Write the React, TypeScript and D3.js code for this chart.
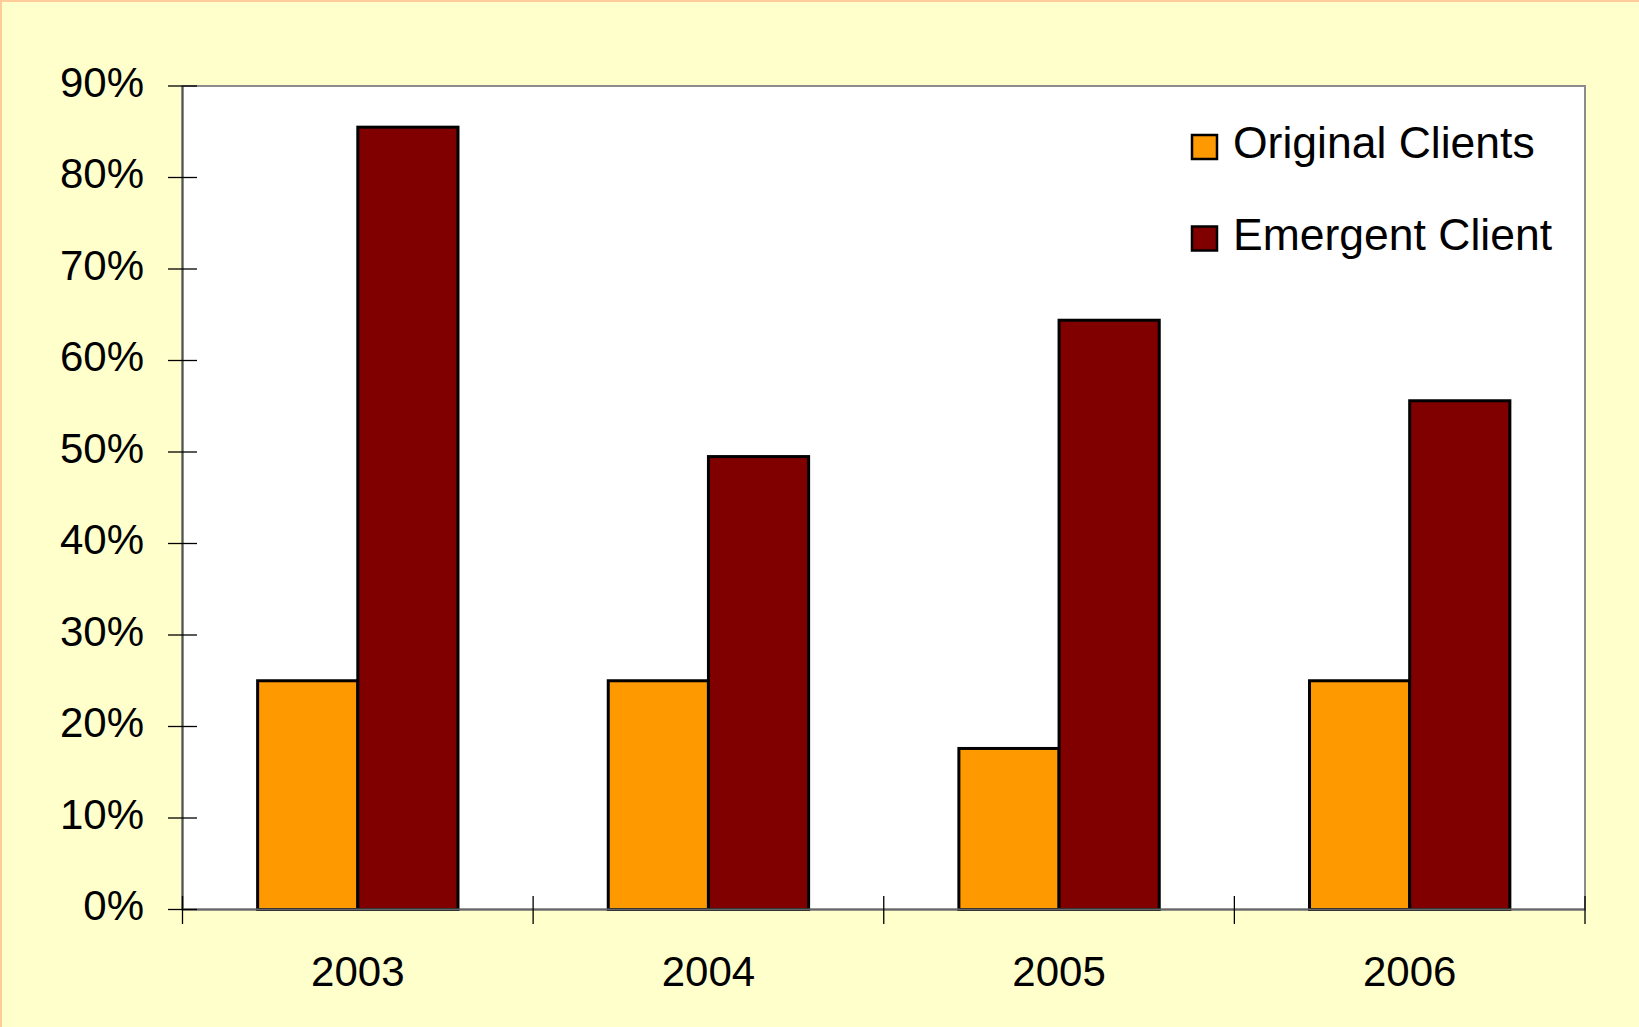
import React from "react";
import * as d3 from "d3";

// Share of clients by year
const years = ["2003", "2004", "2005", "2006"];
const seriesNames = ["Original Clients", "Emergent Client"];
const originalClients = [0.25, 0.25, 0.176, 0.25];
const emergentClient = [0.855, 0.495, 0.644, 0.556];
const seriesColors = ["#FF9900", "#800000"];
const yTicks = [0, 0.1, 0.2, 0.3, 0.4, 0.5, 0.6, 0.7, 0.8, 0.9];

const W = 1639;
const H = 1027;
const plot = { left: 182.5, right: 1585, top: 86, bottom: 909.5 };
const FONT = "'Liberation Sans', Arial, Helvetica, sans-serif";

export default function App() {
  const x = d3
    .scaleBand<string>()
    .domain(years)
    .range([plot.left, plot.right])
    .paddingInner(0)
    .paddingOuter(0);
  const bw = x.bandwidth();
  // gap width of 150% between groups
  const barW = bw / 3.5;
  const inner = d3
    .scaleBand<string>()
    .domain(seriesNames)
    .range([0.75 * barW, bw - 0.75 * barW])
    .padding(0);

  const y = d3.scaleLinear().domain([0, 0.9]).range([plot.bottom, plot.top]);
  const fmt = d3.format(".0%");
  const values = [originalClients, emergentClient];
  const boundaries = [...years.map((yr) => x(yr) as number), plot.right];

  return (
    <svg
      width={W}
      height={H}
      viewBox={`0 0 ${W} ${H}`}
      style={{ position: "absolute", left: 0, top: 0, display: "block" }}
      fontFamily={FONT}
    >
      <rect x={0} y={0} width={W} height={H} fill="#FFFFCC" />
      <line x1={0} y1={1} x2={W} y2={1} stroke="#FFCC99" strokeWidth={2} />
      <line x1={1} y1={0} x2={1} y2={H} stroke="#FFCC99" strokeWidth={2} />

      {/* plot area */}
      <rect
        x={plot.left}
        y={plot.top}
        width={plot.right - plot.left}
        height={plot.bottom - plot.top}
        fill="#FFFFFF"
        stroke="#8C8C8C"
        strokeWidth={2}
      />

      {/* bars */}
      {years.map((yr, i) => (
        <g key={yr} transform={`translate(${x(yr)},0)`}>
          {seriesNames.map((s, j) => {
            const v = values[j][i];
            return (
              <rect
                key={s}
                x={inner(s)}
                y={y(v)}
                width={inner.bandwidth()}
                height={y(0) - y(v)}
                fill={seriesColors[j]}
                stroke="#000"
                strokeWidth={3}
              />
            );
          })}
        </g>
      ))}

      {/* axes */}
      <line x1={plot.left} y1={plot.top} x2={plot.left} y2={plot.bottom} stroke="#555" strokeWidth={2} />
      <line x1={plot.left} y1={plot.bottom} x2={plot.right} y2={plot.bottom} stroke="#666" strokeWidth={2} />
      {yTicks.map((t) => (
        <g key={t}>
          <line x1={168} x2={197} y1={y(t)} y2={y(t)} stroke="#000" strokeWidth={1.3} />
          <text x={144} y={y(t) + 10.5} textAnchor="end" fontSize={42} fill="#000">
            {fmt(t)}
          </text>
        </g>
      ))}
      {boundaries.map((bx, i) => (
        <line key={i} x1={bx} x2={bx} y1={896} y2={924} stroke="#000" strokeWidth={1.3} />
      ))}
      {years.map((yr) => (
        <text
          key={yr}
          x={(x(yr) as number) + bw / 2}
          y={986}
          textAnchor="middle"
          fontSize={42}
          fill="#000"
        >
          {yr}
        </text>
      ))}

      {/* legend */}
      {seriesNames.map((s, j) => (
        <g key={s} transform={`translate(0,${j * 91.5})`}>
          <rect x={1192} y={135} width={25} height={24} fill={seriesColors[j]} stroke="#000" strokeWidth={2.5} />
          <text x={1233} y={158} fontSize={44.5} fill="#000">
            {s}
          </text>
        </g>
      ))}
    </svg>
  );
}
